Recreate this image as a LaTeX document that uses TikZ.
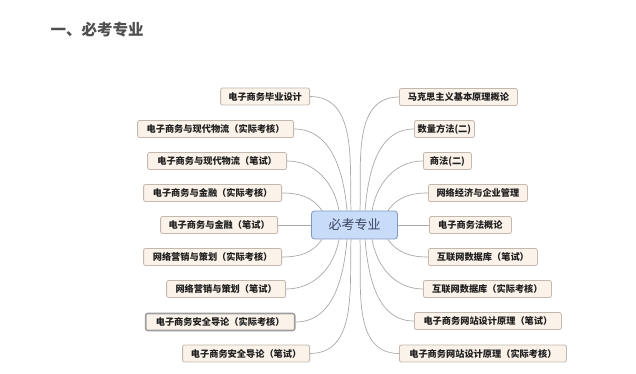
\documentclass[tikz,border=0pt]{standalone}
\usepackage{fontspec}
\setmainfont{Noto Sans CJK SC}
\usetikzlibrary{positioning}
\definecolor{boxfill}{HTML}{FBF3EA}
\definecolor{boxline}{HTML}{C2B8AE}
\definecolor{hubfill}{HTML}{C8DBF8}
\definecolor{hubline}{HTML}{7F9AC2}
\definecolor{hubtext}{HTML}{3C4560}
\definecolor{wiregray}{HTML}{A9A9A9}
\definecolor{titlegray}{HTML}{505050}
\tikzset{
  course/.style={draw=boxline,fill=boxfill,rounded corners=2pt,line width=0.8pt,
    font=\bfseries\fontsize{9.2}{11}\selectfont,text=black!88,
    minimum height=17pt,inner sep=0pt},
  picked/.style={course,draw=gray!75,line width=1.6pt},
  hub/.style={draw=hubline,fill=hubfill,rounded corners=3pt,line width=0.8pt,
    font=\fontsize{13}{15}\selectfont,text=hubtext,
    minimum width=86pt,minimum height=28pt,inner sep=0pt},
  wire/.style={draw=wiregray,line width=0.7pt}
}
\begin{document}
\begin{tikzpicture}[x=1pt,y=1pt]
  \useasboundingbox[fill=white](0,0) rectangle (636,374);
  \node[anchor=west,font=\bfseries\fontsize{15.5}{18}\selectfont,text=titlegray] (title) at (47,344.5) {一、必考专业};

  \node[hub] (hub) at (354.5,149) {必考专业};

  % left branch
  \node[course,anchor=east,minimum width=89pt] (l1) at (310,277.5) {电子商务毕业设计};
  \node[course,anchor=east,minimum width=156pt] (l2) at (294,245) {电子商务与现代物流（实际考核）};
  \node[course,anchor=east,minimum width=139pt] (l3) at (287,213) {电子商务与现代物流（笔试）};
  \node[course,anchor=east,minimum width=138pt] (l4) at (282,181) {电子商务与金融（实际考核）};
  \node[course,anchor=east,minimum width=117pt] (l5) at (278,149) {电子商务与金融（笔试）};
  \node[course,anchor=east,minimum width=138pt] (l6) at (282,117) {网络营销与策划（实际考核）};
  \node[course,anchor=east,minimum width=119pt] (l7) at (286,85) {网络营销与策划（笔试）};
  \node[picked,anchor=east,minimum width=149pt] (l8) at (295.5,52) {电子商务安全导论（实际考核）};
  \node[course,anchor=east,minimum width=127pt] (l9) at (310,20.5) {电子商务安全导论（笔试）};

  % right branch
  \node[course,anchor=west,minimum width=118pt] (r1) at (399,277) {马克思主义基本原理概论};
  \node[course,anchor=west,minimum width=60pt] (r2) at (414,245) {数量方法(二)};
  \node[course,anchor=west,minimum width=48pt] (r3) at (423,213) {商法(二)};
  \node[course,anchor=west,minimum width=99pt] (r4) at (428,181) {网络经济与企业管理};
  \node[course,anchor=west,minimum width=82pt] (r5) at (429,149) {电子商务法概论};
  \node[course,anchor=west,minimum width=109pt] (r6) at (428,117) {互联网数据库（笔试）};
  \node[course,anchor=west,minimum width=128pt] (r7) at (423,85) {互联网数据库（实际考核）};
  \node[course,anchor=west,minimum width=147pt] (r8) at (414,53) {电子商务网站设计原理（笔试）};
  \node[course,anchor=west,minimum width=167pt] (r9) at (399,20.5) {电子商务网站设计原理（实际考核）};

  % connectors
  \draw[wire] (l1.east) to[out=0,in=92] ([xshift=-3.5pt]hub.north);
  \draw[wire] (l2.east) to[out=0,in=95] ([xshift=-7.5pt]hub.north);
  \draw[wire] (l3.east) to[out=0,in=100] ([xshift=-15.5pt]hub.north);
  \draw[wire] (l4.east) to[out=0,in=125] ([xshift=-32.5pt]hub.north);
  \draw[wire] (l5.east) -- (hub.west);
  \draw[wire] (l6.east) to[out=0,in=235] ([xshift=-32.5pt]hub.south);
  \draw[wire] (l7.east) to[out=0,in=260] ([xshift=-15.5pt]hub.south);
  \draw[wire] (l8.east) to[out=0,in=265] ([xshift=-7.5pt]hub.south);
  \draw[wire] (l9.east) to[out=0,in=268] ([xshift=-3.5pt]hub.south);

  \draw[wire] ([xshift=5.5pt]hub.north) to[out=88,in=180] (r1.west);
  \draw[wire] ([xshift=10.5pt]hub.north) to[out=85,in=180] (r2.west);
  \draw[wire] ([xshift=17.5pt]hub.north) to[out=80,in=180] (r3.west);
  \draw[wire] ([xshift=33.5pt]hub.north) to[out=55,in=180] (r4.west);
  \draw[wire] (hub.east) -- (r5.west);
  \draw[wire] ([xshift=33.5pt]hub.south) to[out=-55,in=180] (r6.west);
  \draw[wire] ([xshift=17.5pt]hub.south) to[out=-80,in=180] (r7.west);
  \draw[wire] ([xshift=10.5pt]hub.south) to[out=-85,in=180] (r8.west);
  \draw[wire] ([xshift=5.5pt]hub.south) to[out=-88,in=180] (r9.west);
\end{tikzpicture}
\end{document}
